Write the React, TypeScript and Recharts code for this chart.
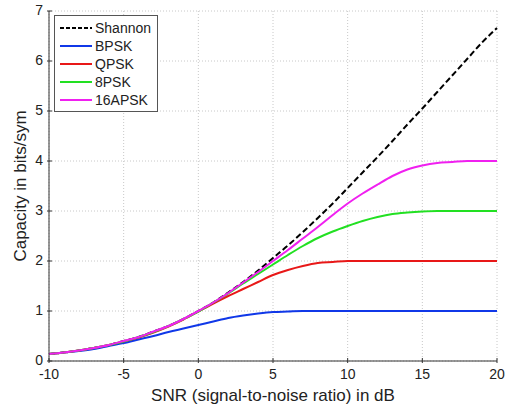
import { CartesianGrid, Line, LineChart, XAxis, YAxis } from "recharts";

// SNR in dB, 1 dB steps
const snrDb = [-10, -9, -8, -7, -6, -5, -4, -3, -2, -1, 0, 1, 2, 3, 4, 5, 6, 7, 8, 9, 10, 11, 12, 13, 14, 15, 16, 17, 18, 19, 20];

const shannon = [0.14, 0.17, 0.21, 0.26, 0.32, 0.4, 0.48, 0.59, 0.7, 0.84, 1.0, 1.17, 1.37, 1.58, 1.81, 2.06, 2.31, 2.58, 2.86, 3.15, 3.46, 3.77, 4.08, 4.4, 4.73, 5.05, 5.38, 5.71, 6.04, 6.37, 6.66];
const bpsk = [0.14, 0.17, 0.2, 0.24, 0.3, 0.36, 0.43, 0.5, 0.58, 0.65, 0.72, 0.79, 0.86, 0.91, 0.95, 0.98, 0.99, 1.0, 1.0, 1.0, 1.0, 1.0, 1.0, 1.0, 1.0, 1.0, 1.0, 1.0, 1.0, 1.0, 1.0];
const qpsk = [0.14, 0.17, 0.21, 0.26, 0.32, 0.39, 0.47, 0.57, 0.69, 0.83, 0.99, 1.15, 1.3, 1.44, 1.58, 1.72, 1.82, 1.9, 1.96, 1.98, 2.0, 2.0, 2.0, 2.0, 2.0, 2.0, 2.0, 2.0, 2.0, 2.0, 2.0];
const psk8 = [0.14, 0.17, 0.21, 0.26, 0.32, 0.39, 0.48, 0.58, 0.7, 0.84, 0.99, 1.17, 1.35, 1.55, 1.74, 1.93, 2.12, 2.3, 2.46, 2.59, 2.7, 2.8, 2.88, 2.94, 2.97, 2.99, 3.0, 3.0, 3.0, 3.0, 3.0];
const apsk16 = [0.14, 0.17, 0.21, 0.26, 0.32, 0.4, 0.48, 0.59, 0.7, 0.84, 1.0, 1.17, 1.36, 1.57, 1.78, 2.0, 2.22, 2.45, 2.68, 2.92, 3.15, 3.35, 3.53, 3.7, 3.83, 3.91, 3.96, 3.98, 4.0, 4.0, 4.0];

const xTicks = [-10, -5, 0, 5, 10, 15, 20];
const yTicks = [0, 1, 2, 3, 4, 5, 6, 7];

const series = [
  { key: "shannon", name: "Shannon", color: "#000000", dash: "6 3" },
  { key: "bpsk", name: "BPSK", color: "#1038e8", dash: undefined },
  { key: "qpsk", name: "QPSK", color: "#e81818", dash: undefined },
  { key: "psk8", name: "8PSK", color: "#22e022", dash: undefined },
  { key: "apsk16", name: "16APSK", color: "#f020f0", dash: undefined },
];

const data = snrDb.map((snr, i) => ({
  snr,
  shannon: shannon[i],
  bpsk: bpsk[i],
  qpsk: qpsk[i],
  psk8: psk8[i],
  apsk16: apsk16[i],
}));

const FONT = "'Liberation Sans', Arial, sans-serif";

// MATLAB style: tick marks point into the axes box
const BottomTick = (props: any) => {
  const { x, y, payload } = props;
  return (
    <g>
      <line x1={x} x2={x} y1={y} y2={y - 5} stroke="#333" />
      <text x={x} y={y + 16} textAnchor="middle" fontSize={14} fill="#222" fontFamily={FONT}>
        {payload.value}
      </text>
    </g>
  );
};

const LeftTick = (props: any) => {
  const { x, y, payload } = props;
  return (
    <g>
      <line x1={x} x2={x + 5} y1={y} y2={y} stroke="#333" />
      <text x={x - 4} y={y + 4} textAnchor="end" fontSize={14} fill="#222" fontFamily={FONT}>
        {payload.value}
      </text>
    </g>
  );
};

const TopTick = (props: any) => {
  const { x, y } = props;
  return <line x1={x} x2={x} y1={y} y2={y + 5} stroke="#333" />;
};

const RightTick = (props: any) => {
  const { x, y } = props;
  return <line x1={x} x2={x - 5} y1={y} y2={y} stroke="#333" />;
};

// legend drawn as an overlay so it does not shrink the plot area
const LegendBox = () => (
  <div
    style={{
      position: "absolute",
      left: 54,
      top: 15,
      border: "1px solid #555",
      background: "#fff",
      padding: "3px 6px 2px 5px",
      fontFamily: FONT,
      fontSize: 14,
      color: "#222",
    }}
  >
    {series.map((s) => (
      <div key={s.key} style={{ display: "flex", alignItems: "center", height: 18 }}>
        <svg width={32} height={6} style={{ marginRight: 3 }}>
          <line x1={0} x2={32} y1={3} y2={3} stroke={s.color} strokeWidth={2} strokeDasharray={s.dash ? "4 2" : undefined} />
        </svg>
        <span>{s.name}</span>
      </div>
    ))}
  </div>
);

export default function App() {
  return (
    <div style={{ position: "absolute", left: 0, top: 0, width: 510, height: 404, background: "#fff" }}>
      <LineChart width={510} height={404} data={data} margin={{ top: 11, right: 13, bottom: 3, left: 19 }}>
        <CartesianGrid stroke="#c8c8c8" strokeDasharray="1 2" />
        <XAxis
          dataKey="snr"
          type="number"
          domain={[-10, 20]}
          ticks={xTicks}
          tick={<BottomTick />}
          tickLine={false}
          tickSize={0}
          axisLine={{ stroke: "#333" }}
          height={40}
          label={{ value: "SNR (signal-to-noise ratio) in dB", position: "insideBottom", offset: 0, fontSize: 17, fill: "#222", fontFamily: FONT }}
        />
        <XAxis
          xAxisId="top"
          orientation="top"
          dataKey="snr"
          type="number"
          domain={[-10, 20]}
          ticks={xTicks}
          tick={<TopTick />}
          tickLine={false}
          tickSize={0}
          axisLine={{ stroke: "#333" }}
          height={0}
        />
        <YAxis
          type="number"
          domain={[0, 7]}
          ticks={yTicks}
          tick={<LeftTick />}
          tickLine={false}
          tickSize={0}
          axisLine={{ stroke: "#333" }}
          width={30}
          label={{ value: "Capacity in bits/sym", angle: -90, position: "insideLeft", offset: 1, fontSize: 17, fill: "#222", fontFamily: FONT, style: { textAnchor: "middle" } }}
        />
        <YAxis
          yAxisId="right"
          orientation="right"
          type="number"
          domain={[0, 7]}
          ticks={yTicks}
          tick={<RightTick />}
          tickLine={false}
          tickSize={0}
          axisLine={{ stroke: "#333" }}
          width={0}
        />
        {series.map((s) => (
          <Line
            key={s.key}
            type="monotone"
            dataKey={s.key}
            name={s.name}
            stroke={s.color}
            strokeWidth={2}
            strokeDasharray={s.dash}
            dot={false}
            isAnimationActive={false}
          />
        ))}
      </LineChart>
      <LegendBox />
    </div>
  );
}
